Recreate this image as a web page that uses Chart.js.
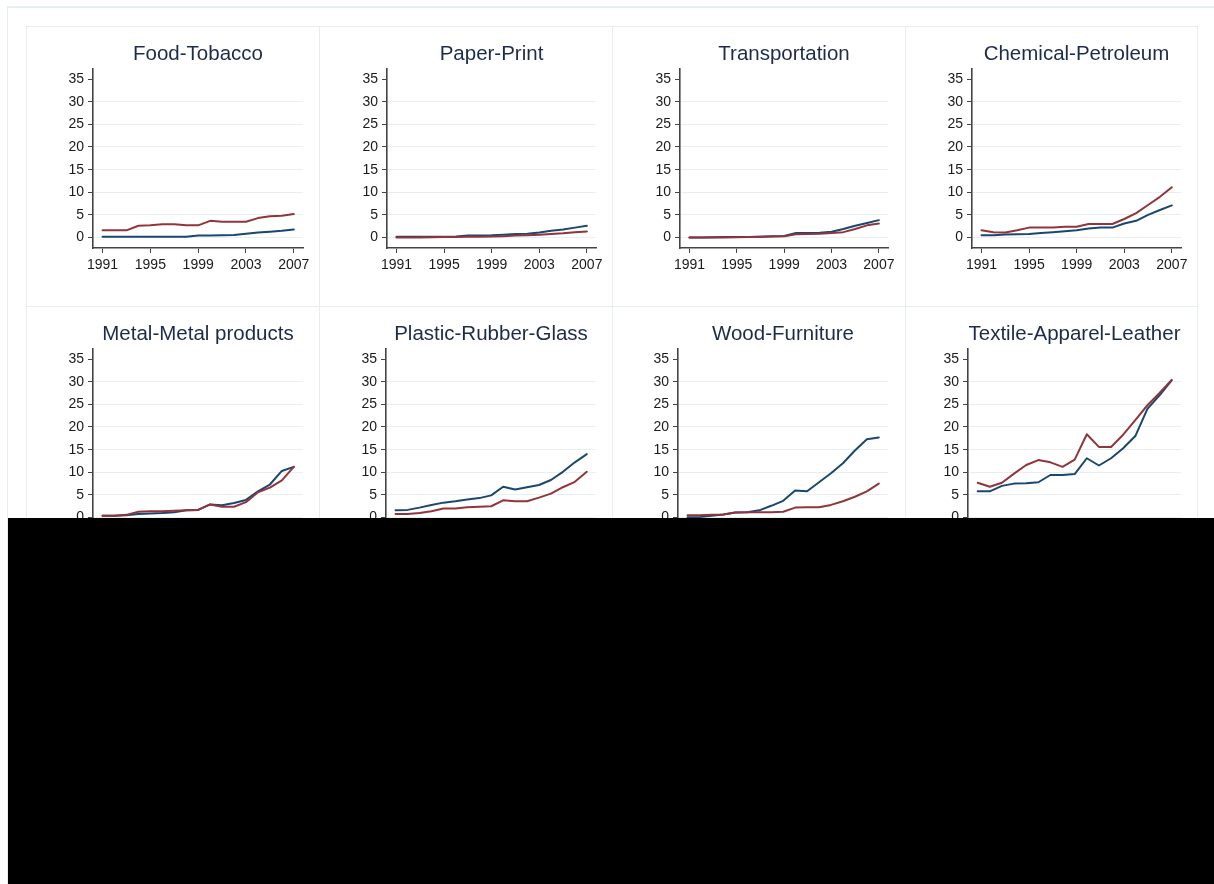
<!DOCTYPE html>
<html>
<head>
<meta charset="utf-8">
<title>Sector trends 1991-2007</title>
<script src="https://cdn.jsdelivr.net/npm/chart.js@4.4.1/dist/chart.umd.min.js"></script>
<style>
  html, body { margin: 0; padding: 0; background: #ffffff; }
  body { width: 1214px; height: 884px; position: relative; overflow: hidden;
         font-family: "Liberation Sans", Arial, sans-serif; }
  #frame { position: absolute; left: 7px; top: 6px; width: 1230px; height: 900px;
           border-left: 1px solid #e6edf0; border-top: 2px solid #e6edf0; box-sizing: border-box; }
  .panel { position: absolute; border: 1px solid #e8eef0; box-sizing: border-box; background: #ffffff; }
  canvas { position: absolute; }
  #mask { position: absolute; left: 8px; top: 518px; width: 1206px; height: 366px; background: #000000; }
</style>
</head>
<body>
<div id="frame"></div>
<div id="panels"></div>
<div id="mask"></div>
<script>
// ---- data -----------------------------------------------------------
const years = [1991, 1992, 1993, 1994, 1995, 1996, 1997, 1998, 1999,
               2000, 2001, 2002, 2003, 2004, 2005, 2006, 2007];
const sectors = ['Food-Tobacco', 'Paper-Print', 'Transportation', 'Chemical-Petroleum',
                 'Metal-Metal products', 'Plastic-Rubber-Glass', 'Wood-Furniture',
                 'Textile-Apparel-Leather'];
const xTickYears = [1991, 1995, 1999, 2003, 2007];
const yTickValues = [0, 5, 10, 15, 20, 25, 30, 35];

const foodTobaccoNavy   = [0.2, 0.2, 0.2, 0.2, 0.2, 0.2, 0.2, 0.2, 0.45, 0.45, 0.5, 0.55, 0.85, 1.1, 1.3, 1.5, 1.8];
const foodTobaccoMaroon = [1.6, 1.6, 1.6, 2.6, 2.7, 2.95, 2.95, 2.7, 2.7, 3.7, 3.5, 3.5, 3.5, 4.3, 4.7, 4.8, 5.2];

const paperPrintNavy   = [0.2, 0.2, 0.2, 0.2, 0.2, 0.25, 0.45, 0.45, 0.5, 0.65, 0.8, 0.85, 1.1, 1.5, 1.8, 2.2, 2.6];
const paperPrintMaroon = [0, 0, 0, 0.05, 0.15, 0.15, 0.2, 0.2, 0.25, 0.3, 0.45, 0.5, 0.65, 0.8, 0.95, 1.2, 1.35];

const transportNavy   = [0, 0, 0.05, 0.15, 0.15, 0.15, 0.2, 0.3, 0.35, 1.0, 1.0, 1.05, 1.3, 1.9, 2.6, 3.2, 3.85];
const transportMaroon = [0, 0, 0, 0, 0.05, 0.15, 0.2, 0.25, 0.3, 0.75, 0.8, 0.85, 1.0, 1.2, 1.9, 2.7, 3.1];

const chemicalNavy   = [0.5, 0.5, 0.7, 0.75, 0.8, 1.0, 1.2, 1.4, 1.6, 2.0, 2.2, 2.2, 3.1, 3.7, 5.0, 6.1, 7.1];
const chemicalMaroon = [1.6, 1.2, 1.1, 1.6, 2.2, 2.2, 2.2, 2.4, 2.4, 3.0, 3.0, 3.0, 4.1, 5.4, 7.2, 9.0, 11.1];

const metalNavy   = [0.4, 0.4, 0.5, 0.8, 0.9, 1.0, 1.2, 1.6, 1.7, 2.9, 2.7, 3.2, 3.9, 5.8, 7.3, 10.3, 11.2];
const metalMaroon = [0.4, 0.4, 0.6, 1.3, 1.4, 1.4, 1.5, 1.6, 1.7, 2.9, 2.4, 2.4, 3.4, 5.6, 6.6, 8.2, 11.2];

const plasticNavy   = [1.6, 1.7, 2.2, 2.8, 3.3, 3.6, 4.0, 4.3, 4.9, 6.8, 6.2, 6.7, 7.2, 8.3, 10.1, 12.2, 14.0];
const plasticMaroon = [0.8, 0.8, 1.0, 1.4, 2.0, 2.0, 2.3, 2.4, 2.5, 3.8, 3.6, 3.6, 4.4, 5.3, 6.7, 7.9, 10.1];

const woodNavy   = [0.1, 0.1, 0.4, 0.7, 1.1, 1.2, 1.6, 2.6, 3.7, 6.0, 5.8, 7.8, 9.8, 12.0, 14.8, 17.3, 17.7];
const woodMaroon = [0.5, 0.5, 0.6, 0.7, 1.1, 1.2, 1.2, 1.2, 1.3, 2.2, 2.3, 2.3, 2.8, 3.6, 4.6, 5.8, 7.5];

const textileNavy   = [5.8, 5.8, 7.0, 7.5, 7.6, 7.8, 9.4, 9.4, 9.6, 13.1, 11.5, 13.1, 15.3, 18.0, 24.0, 27.0, 30.3];
const textileMaroon = [7.7, 6.8, 7.7, 9.7, 11.6, 12.7, 12.2, 11.2, 12.8, 18.4, 15.6, 15.6, 18.3, 21.5, 24.8, 27.5, 30.4];

const navySeries   = [foodTobaccoNavy, paperPrintNavy, transportNavy, chemicalNavy,
                      metalNavy, plasticNavy, woodNavy, textileNavy];
const maroonSeries = [foodTobaccoMaroon, paperPrintMaroon, transportMaroon, chemicalMaroon,
                      metalMaroon, plasticMaroon, woodMaroon, textileMaroon];

// ---- layout & style -------------------------------------------------
const NAVY = '#1a476f';
const MAROON = '#90353b';
const AXIS = '#444444';
const GRID = '#e8eff1';
const FONT = '"Liberation Sans", Arial, sans-serif';

const colEdges = [26, 319, 612, 905, 1197];
const rowEdges = [26, 306, 586];
const plotLefts = [[93, 387, 680, 972], [93, 386, 678, 968]];
const plotRights = [303, 596, 888, 1181];
const plotTops = [69, 349];
const PLOT_H = 179;
const PAD_L = 70, PAD_R = 20, PAD_T = 45, PAD_B = 40;

// Panel title, centred over the plot region
const panelTitle = {
  id: 'panelTitle',
  afterDraw(chart, args, opts) {
    const { ctx, chartArea } = chart;
    ctx.save();
    ctx.font = '20.5px ' + FONT;
    ctx.fillStyle = '#1d2b4a';
    ctx.textAlign = 'center';
    ctx.textBaseline = 'alphabetic';
    ctx.fillText(opts.text, (chartArea.left + chartArea.right) / 2, chartArea.top - 8.6);
    ctx.restore();
  }
};

const panelsEl = document.getElementById('panels');

sectors.forEach((name, i) => {
  const row = Math.floor(i / 4), col = i % 4;

  const box = document.createElement('div');
  box.className = 'panel';
  box.style.left = colEdges[col] + 'px';
  box.style.top = rowEdges[row] + 'px';
  box.style.width = (colEdges[col + 1] - colEdges[col] + 1) + 'px';
  box.style.height = (rowEdges[row + 1] - rowEdges[row] + 1) + 'px';
  panelsEl.appendChild(box);

  const left = plotLefts[row][col];
  const plotW = plotRights[col] - left;
  const cv = document.createElement('canvas');
  cv.width = plotW + PAD_L + PAD_R;
  cv.height = PLOT_H + PAD_T + PAD_B;
  cv.style.left = (left - PAD_L) + 'px';
  cv.style.top = (plotTops[row] - PAD_T) + 'px';
  cv.style.width = cv.width + 'px';
  cv.style.height = cv.height + 'px';
  panelsEl.appendChild(cv);

  const line = (values, color) => ({
    data: years.map((yr, k) => ({ x: yr, y: values[k] })),
    borderColor: color,
    borderWidth: 2,
    borderJoinStyle: 'round',
    borderCapStyle: 'round',
    pointRadius: 0,
    tension: 0,
    fill: false
  });

  new Chart(cv, {
    type: 'line',
    data: { datasets: [line(maroonSeries[i], MAROON), line(navySeries[i], NAVY)] },
    options: {
      responsive: false,
      animation: false,
      events: [],
      layout: { padding: { left: 0, right: PAD_R, top: PAD_T, bottom: 0 } },
      plugins: {
        legend: { display: false },
        title: { display: false },
        tooltip: { enabled: false },
        panelTitle: { text: name }
      },
      scales: {
        x: {
          type: 'linear',
          min: 1990.2,
          max: 2007.77,
          afterBuildTicks: s => { s.ticks = xTickYears.map(v => ({ value: v })); },
          afterFit: s => { s.height = PAD_B; },
          grid: { drawOnChartArea: false, drawTicks: true, tickLength: 5, tickColor: AXIS, tickWidth: 1 },
          border: { display: true, color: AXIS, width: 1.6 },
          ticks: { color: '#1a1a1a', font: { family: FONT, size: 14 }, padding: 4,
                   maxRotation: 0, autoSkip: false, callback: v => String(v) }
        },
        y: {
          type: 'linear',
          min: -2.3,
          max: 37.22,
          afterBuildTicks: s => { s.ticks = yTickValues.map(v => ({ value: v })); },
          afterFit: s => { s.width = PAD_L; },
          grid: {
            color: c => (c.tick && c.tick.value === 35) ? 'rgba(0,0,0,0)' : GRID,
            lineWidth: 1, drawTicks: true, tickLength: 5, tickColor: AXIS, tickWidth: 1
          },
          border: { display: true, color: AXIS, width: 1.6 },
          ticks: { color: '#1a1a1a', font: { family: FONT, size: 14 }, padding: 4,
                   autoSkip: false, callback: v => String(v) }
        }
      }
    },
    plugins: [panelTitle]
  });
});
</script>
</body>
</html>
